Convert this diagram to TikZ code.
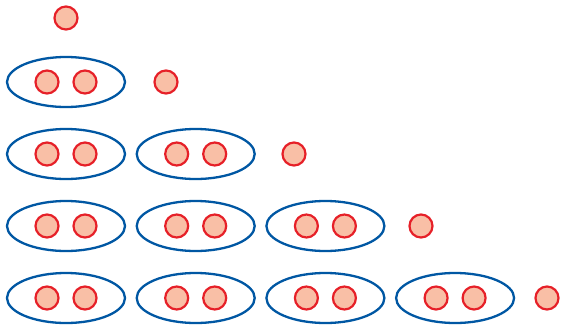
\documentclass[tikz,border=0pt]{standalone}
\usepackage{tikz}
\usetikzlibrary{shapes.geometric}

\definecolor{ballfill}{RGB}{249,191,166}
\definecolor{ballline}{RGB}{230,32,40}
\definecolor{pairline}{RGB}{0,87,163}

\tikzset{
    ball/.style={circle, draw=ballline, fill=ballfill, line width=2.2pt,
                 minimum size=23pt, inner sep=0pt},
    pairbox/.style={ellipse, draw=pairline, line width=2.3pt,
                    minimum width=118pt, minimum height=50pt, inner sep=0pt}
}

\begin{document}
\begin{tikzpicture}[x=1pt, y=-1pt]
\useasboundingbox (0,0) rectangle (563,327);

% ===================== ROW 0: ONE BALL =====================
\node[ball] (b0) at (66,18) {};

% ===================== ROWS 1--4: PAIRS + ONE LEFT OVER =====================
\foreach \r/\ry/\sx in {1/82/166, 2/154/294, 3/226/421, 4/298/547} {
    \foreach \c in {1,...,\r} {
        \pgfmathsetmacro{\cx}{66+129.7*(\c-1)}
        % Ellipse around a pair
        \node[pairbox] (e\r\c) at (\cx,\ry) {};
        \node[ball] (p\r\c a) at ([xshift=-19pt]e\r\c.center) {};
        \node[ball] (p\r\c b) at ([xshift=19pt]e\r\c.center) {};
    }
    % Single ball
    \node[ball] (b\r) at (\sx,\ry) {};
}

\end{tikzpicture}
\end{document}
